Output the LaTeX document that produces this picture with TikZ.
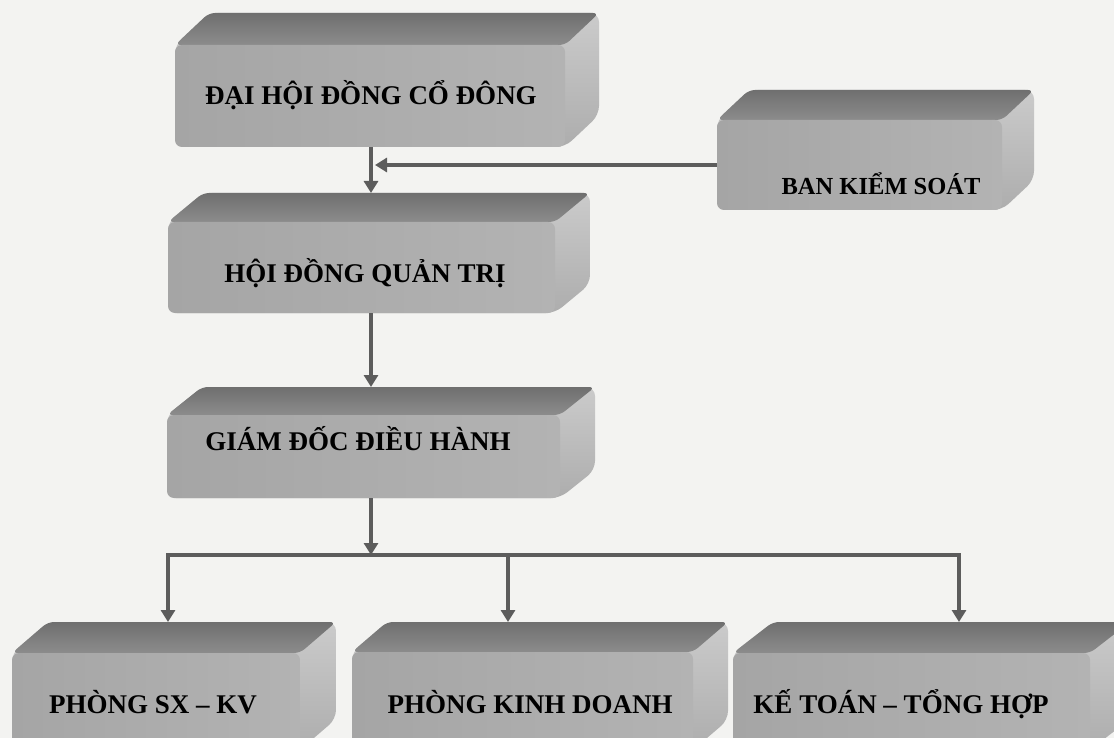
\documentclass[tikz,border=0pt]{standalone}
\usepackage{fontspec}
\setmainfont{Liberation Serif}
\usetikzlibrary{arrows.meta}
\definecolor{bgc}{HTML}{F3F3F1}
\definecolor{linec}{HTML}{5C5C5C}
\definecolor{topA}{HTML}{6F6F6F}
\definecolor{topB}{HTML}{8C8C8C}
\definecolor{sideA}{HTML}{CBCBCB}
\definecolor{sideB}{HTML}{ADADAD}
\definecolor{frontA}{HTML}{A5A5A5}
\definecolor{frontB}{HTML}{B3B3B3}
\tikzset{
  conn/.style={draw=linec, line width=3.2pt},
  arr/.style={conn, -{Triangle[width=14pt,length=12pt]}},
  lbl/.style={font=\bfseries\fontsize{27}{30}\selectfont, text=black, inner sep=0pt, anchor=base},
  topface/.style={top color=topA, bottom color=topB, rounded corners=6pt},
  sideface/.style={top color=sideA, bottom color=sideB, rounded corners=9pt},
  frontface/.style={left color=frontA, right color=frontB, rounded corners=7pt},
}
% name, cx, cy, w, h, dx, dy
\newcommand\slab[7]{%
  \node[inner sep=0pt, outer sep=0pt, minimum width=#4pt, minimum height=#5pt] (#1) at (#2,#3) {};
  \path[sideface] (#1.south west) -- (#1.north west) -- ([shift={(#6,#7)}]#1.north west)
     -- ([shift={(#6,#7)}]#1.north east) -- ([shift={(#6,#7)}]#1.south east) -- (#1.south east) -- cycle;
  \path[topface] (#1.north west) -- ([shift={(#6,#7)}]#1.north west)
     -- ([shift={(#6,#7)}]#1.north east) -- (#1.north east) -- cycle;
  \path[frontface] (#1.south west) rectangle (#1.north east);
  \coordinate (#1-t) at ([shift={(0,#7)}]#1.north);
}
\begin{document}
\begin{tikzpicture}[x=1pt, y=-1pt]
  \clip (0,0) rectangle (1114,738);
  \fill[bgc] (0,0) rectangle (1114,738);

  \slab{dh}{370}{96}{390}{102}{34}{-32}
  \slab{bks}{859.5}{165}{285}{90}{32}{-30}
  \slab{hd}{361.5}{267.5}{387}{91}{35}{-29}
  \slab{gd}{363.5}{456.5}{393}{83}{35}{-28}
  \slab{sx}{156}{701.5}{288}{97}{36}{-31}
  \slab{pk}{522.5}{701}{341}{98}{35}{-30}
  \slab{kt}{911.5}{701.5}{357}{97}{40}{-31}

  \node[lbl] (dh-l) at (371,105) {ĐẠI HỘI ĐỒNG CỔ ĐÔNG};
  \node[lbl, font=\bfseries\fontsize{24.5}{28}\selectfont] (bks-l) at (881,195) {BAN KIỂM SOÁT};
  \node[lbl] (hd-l) at (365,282) {HỘI ĐỒNG QUẢN TRỊ};
  \node[lbl] (gd-l) at (358,450) {GIÁM ĐỐC ĐIỀU HÀNH};
  \node[lbl] (sx-l) at (153,713) {PHÒNG SX – KV};
  \node[lbl] (pk-l) at (530,713) {PHÒNG KINH DOANH};
  \node[lbl] (kt-l) at (901,713) {KẾ TOÁN – TỔNG HỢP};

  \coordinate (vx) at (371,0);
  \coordinate (jx) at (375,165);
  \coordinate (b1) at (168,555);
  \coordinate (b2) at (508,555);
  \coordinate (b3) at (959,555);
  \coordinate (bm) at (371,555);

  \draw[arr] (bks.west) -- (jx);
  \draw[arr] (vx |- dh.south) -- (vx |- hd-t);
  \draw[arr] (vx |- hd.south) -- (vx |- gd-t);
  \draw[arr] (vx |- gd.south) -- (bm);
  \draw[arr] (bm) -- (b1) -- (b1 |- sx-t);
  \draw[arr] (bm) -- (b3) -- (b3 |- kt-t);
  \draw[arr] (b2) -- (b2 |- pk-t);
\end{tikzpicture}
\end{document}
